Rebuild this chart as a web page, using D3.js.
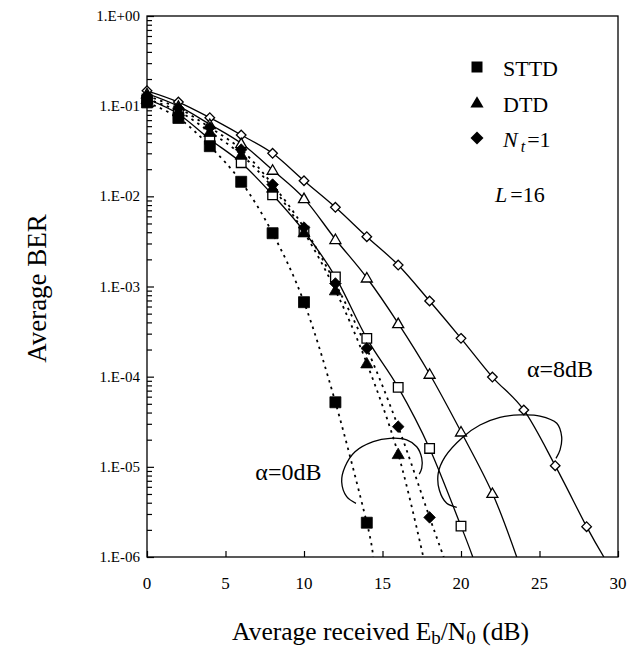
<!DOCTYPE html>
<html>
<head>
<meta charset="utf-8">
<script src="https://cdn.jsdelivr.net/npm/d3@7/dist/d3.min.js"></script>
<style>
  body { margin: 0; background: #fff; }
  text { font-family: "Liberation Serif", "Times New Roman", serif; fill: #000; }
</style>
</head>
<body>
<div id="chart"></div>
<script>
// Eb/N0 points (dB)
var ebno = [0, 2, 4, 6, 8, 10, 12, 14, 16, 18, 20, 22, 24, 26, 28];

// alpha = 0 dB (dotted, filled markers)
var sttd0 = [0.11, 0.074, 0.036, 0.0145, 0.0039, 6.7e-4, 5.2e-5, 2.4e-6];
var dtd0 = [0.12, 0.088, 0.052, 0.029, 0.0125, 0.0040, 9.1e-4, 1.41e-4, 1.39e-5];
var nt10 = [0.13, 0.095, 0.058, 0.033, 0.0135, 0.0045, 1.08e-3, 2.06e-4, 2.79e-5, 2.75e-6];

// alpha = 8 dB (solid, open markers)
var sttd8 = [0.12, 0.082, 0.043, 0.0236, 0.0104, 0.0041, 1.28e-3, 2.66e-4, 7.6e-5, 1.6e-5, 2.2e-6];
var dtd8 = [0.138, 0.10, 0.063, 0.0387, 0.0196, 0.0095, 0.00334, 0.00125, 3.9e-4, 1.07e-4, 2.45e-5, 5.1e-6];
var nt18 = [0.148, 0.111, 0.0745, 0.0479, 0.030, 0.0149, 0.00756, 0.00357, 0.00173, 6.9e-4, 2.66e-4, 9.9e-5, 4.27e-5, 1.03e-5, 2.17e-6];

// where each curve leaves the plot at BER = 1E-06
var exitX = { sttd0: 14.4, dtd0: 17.6, nt10: 18.9, sttd8: 20.75, dtd8: 23.55, nt18: 29.1 };

var xTicks = [0, 5, 10, 15, 20, 25, 30];
var yTicks = [1, 1e-1, 1e-2, 1e-3, 1e-4, 1e-5, 1e-6];
var yTickLabels = ["1.E+00", "1.E-01", "1.E-02", "1.E-03", "1.E-04", "1.E-05", "1.E-06"];

// hand-drawn brackets round the curve groups, [dB, BER]
var loop0 = [[13.31, 3.94e-6], [12.72, 4.67e-6], [12.40, 6.84e-6], [12.61, 1.0e-5], [13.25, 1.47e-5],
  [14.41, 1.90e-5], [15.48, 2.07e-5], [16.54, 1.99e-5], [17.18, 1.67e-5], [17.50, 1.25e-5],
  [17.50, 9.7e-6], [17.34, 8.3e-6]];
var loop8 = [[19.73, 3.56e-6], [19.09, 3.94e-6], [18.62, 5.53e-6], [18.55, 8.5e-6], [18.98, 1.29e-5],
  [20.15, 2.16e-5], [21.21, 2.91e-5], [22.48, 3.54e-5], [23.76, 3.76e-5], [25.03, 3.66e-5],
  [26.10, 3.04e-5], [26.41, 2.16e-5], [26.31, 1.54e-5], [26.05, 1.24e-5]];

var width = 643, height = 654;
var plot = { left: 147, right: 618, top: 16, bottom: 557 };

var svg = d3.select("#chart").append("svg")
  .attr("width", width)
  .attr("height", height);

var x = d3.scaleLinear().domain([0, 30]).range([plot.left, plot.right]);
var y = d3.scaleLog().domain([1e-6, 1]).range([plot.bottom, plot.top]);

svg.append("clipPath").attr("id", "clip")
  .append("rect")
  .attr("x", plot.left).attr("y", plot.top)
  .attr("width", plot.right - plot.left).attr("height", plot.bottom - plot.top);

// frame
svg.append("rect")
  .attr("x", plot.left).attr("y", plot.top)
  .attr("width", plot.right - plot.left).attr("height", plot.bottom - plot.top)
  .attr("fill", "none").attr("stroke", "#000").attr("stroke-width", 1.3);

// y ticks, inside, with log minors
var yAxis = d3.axisRight(y).tickValues(yTicks).tickSize(7).tickFormat("");
var gy = svg.append("g").attr("transform", "translate(" + plot.left + ",0)").call(yAxis);
var minors = [];
for (var e = -6; e < 0; e++) {
  for (var m = 2; m <= 9; m++) minors.push(m * Math.pow(10, e));
}
var yMinor = d3.axisRight(y).tickValues(minors).tickSize(5).tickFormat("");
var gym = svg.append("g").attr("transform", "translate(" + plot.left + ",0)").call(yMinor);
[gy, gym].forEach(function (g) {
  g.select(".domain").remove();
  g.selectAll("line").attr("stroke", "#000").attr("stroke-width", 1.2);
});

svg.append("g").selectAll("text")
  .data(yTicks)
  .enter().append("text")
  .attr("x", plot.left - 7)
  .attr("y", function (d) { return y(d) + 5; })
  .attr("text-anchor", "end")
  .attr("font-size", 15)
  .text(function (d, i) { return yTickLabels[i]; });

// x ticks, inside
var xAxis = d3.axisTop(x).tickValues(xTicks).tickSize(6).tickFormat("");
var gx = svg.append("g").attr("transform", "translate(0," + plot.bottom + ")").call(xAxis);
gx.select(".domain").remove();
gx.selectAll("line").attr("stroke", "#000").attr("stroke-width", 1.2);

svg.append("g").selectAll("text")
  .data(xTicks)
  .enter().append("text")
  .attr("x", function (d) { return x(d); })
  .attr("y", plot.bottom + 32)
  .attr("text-anchor", "middle")
  .attr("font-size", 17)
  .text(function (d) { return d; });

// axis titles
svg.append("text")
  .attr("transform", "translate(46," + ((plot.top + plot.bottom) / 2 + 2) + ") rotate(-90)")
  .attr("text-anchor", "middle")
  .attr("font-size", 27)
  .text("Average BER");

var xt = svg.append("text")
  .attr("x", (plot.left + plot.right) / 2 - 2)
  .attr("y", 640)
  .attr("text-anchor", "middle")
  .attr("font-size", 25.5);
xt.append("tspan").text("Average received E");
xt.append("tspan").attr("font-size", 19).attr("dy", 4).text("b");
xt.append("tspan").attr("dy", -4).text("/N");
xt.append("tspan").attr("font-size", 19).attr("dy", 4).text("0");
xt.append("tspan").attr("dy", -4).text(" (dB)");

// markers
function diamondPath(r) {
  return "M0," + (-r) + "L" + r + ",0L0," + r + "L" + (-r) + ",0Z";
}
function squarePath(r) {
  return "M" + (-r) + "," + (-r) + "H" + r + "V" + r + "H" + (-r) + "Z";
}
function trianglePath(r) {
  return "M0," + (-r * 1.05) + "L" + (r * 1.1) + "," + (r * 0.85) + "L" + (-r * 1.1) + "," + (r * 0.85) + "Z";
}

var series = [
  { key: "nt18", values: nt18, shape: "diamond", filled: false, dotted: false },
  { key: "dtd8", values: dtd8, shape: "triangle", filled: false, dotted: false },
  { key: "sttd8", values: sttd8, shape: "square", filled: false, dotted: false },
  { key: "nt10", values: nt10, shape: "diamond", filled: true, dotted: true },
  { key: "dtd0", values: dtd0, shape: "triangle", filled: true, dotted: true },
  { key: "sttd0", values: sttd0, shape: "square", filled: true, dotted: true }
];

function markerPath(s) {
  if (s.shape === "square") return squarePath(s.filled ? 5.5 : 4.8);
  if (s.shape === "triangle") return trianglePath(s.filled ? 5.5 : 5);
  return diamondPath(s.filled ? 5.8 : 4.8);
}

var line = d3.line()
  .x(function (d) { return x(d[0]); })
  .y(function (d) { return y(d[1]); })
  .curve(d3.curveCatmullRom.alpha(0));

var plotArea = svg.append("g").attr("clip-path", "url(#clip)");

series.forEach(function (s) {
  var pts = s.values.map(function (v, i) { return [ebno[i], v]; });
  var linePts = pts.concat([[exitX[s.key], 1e-6]]);
  plotArea.append("path")
    .datum(linePts)
    .attr("d", line)
    .attr("fill", "none")
    .attr("stroke", "#000")
    .attr("stroke-width", s.dotted ? 1.8 : 1.3)
    .attr("stroke-dasharray", s.dotted ? "2.5,4.5" : null);
});

series.forEach(function (s) {
  var pts = s.values.map(function (v, i) { return [ebno[i], v]; });
  svg.append("g").selectAll("path")
    .data(pts)
    .enter().append("path")
    .attr("transform", function (d) { return "translate(" + x(d[0]) + "," + y(d[1]) + ")"; })
    .attr("d", markerPath(s))
    .attr("fill", s.filled ? "#000" : "#fff")
    .attr("stroke", "#000")
    .attr("stroke-width", s.filled ? 0.8 : 1.3);
});

// brackets and labels
var loopLine = d3.line()
  .x(function (d) { return x(d[0]); })
  .y(function (d) { return y(d[1]); })
  .curve(d3.curveCatmullRom.alpha(0.5));

[loop0, loop8].forEach(function (pts) {
  svg.append("path")
    .datum(pts)
    .attr("d", loopLine)
    .attr("fill", "none")
    .attr("stroke", "#000")
    .attr("stroke-width", 1.3);
});

svg.append("text")
  .attr("x", x(6.9)).attr("y", y(7.1e-6))
  .attr("font-size", 24)
  .text("α=0dB");

svg.append("text")
  .attr("x", x(24.2)).attr("y", y(9.8e-5))
  .attr("font-size", 24)
  .text("α=8dB");

// legend
var legend = [
  { label: "STTD", shape: "square" },
  { label: "DTD", shape: "triangle" },
  { label: "Nt", shape: "diamond" }
];
var lg = svg.append("g");
legend.forEach(function (d, i) {
  var cy = 67 + i * 35.5;
  lg.append("path")
    .attr("transform", "translate(477," + cy + ")")
    .attr("d", d.shape === "square" ? squarePath(5.5) : (d.shape === "triangle" ? trianglePath(6) : diamondPath(6.5)))
    .attr("fill", "#000");
  var t = lg.append("text")
    .attr("x", 503)
    .attr("y", cy + 9)
    .attr("font-size", 22);
  if (d.label === "Nt") {
    t.append("tspan").attr("font-style", "italic").text("N");
    t.append("tspan").attr("font-style", "italic").attr("font-size", 16).attr("dx", 3).attr("dy", 5).text("t");
    t.append("tspan").attr("dy", -5).attr("dx", 2).text("=1");
  } else {
    t.text(d.label);
  }
});

var lt = svg.append("text")
  .attr("x", 495).attr("y", 202)
  .attr("font-size", 22);
lt.append("tspan").attr("font-style", "italic").text("L");
lt.append("tspan").attr("dx", 3).text("=16");
</script>
</body>
</html>
